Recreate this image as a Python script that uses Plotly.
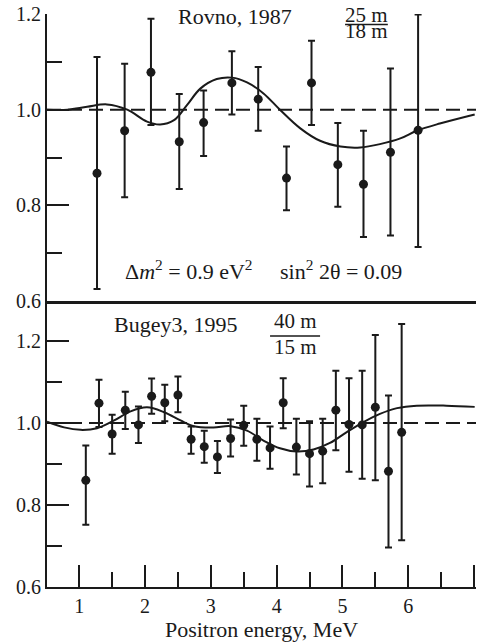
import plotly.graph_objects as go

# ---------------- data ----------------
# Rovno, 1987
rovno_E = [1.27, 1.69, 2.09, 2.52, 2.89, 3.32, 3.72, 4.15, 4.53, 4.93, 5.32, 5.73, 6.15]
rovno_R = [0.867, 0.956, 1.078, 0.933, 0.973, 1.056, 1.022, 0.857, 1.056, 0.885, 0.844, 0.911, 0.957]
rovno_hi = [1.110, 1.096, 1.190, 1.033, 1.040, 1.122, 1.089, 0.923, 1.144, 0.972, 0.956, 1.086, 1.199]
rovno_lo = [0.625, 0.817, 0.968, 0.834, 0.903, 0.990, 0.956, 0.790, 0.968, 0.797, 0.734, 0.737, 0.713]

rovno_fit_E = [0.51, 0.82, 1.12, 1.42, 1.73, 2.03, 2.23, 2.44, 2.64, 2.84, 3.09, 3.32, 3.55,
               3.80, 4.05, 4.36, 4.66, 4.97, 5.27, 5.57, 5.88, 6.13, 6.48, 7.01]
rovno_fit_R = [1.000, 1.000, 1.006, 1.011, 1.000, 0.975, 0.969, 0.978, 1.010, 1.044, 1.064, 1.067, 1.057,
               1.034, 1.000, 0.961, 0.935, 0.923, 0.921, 0.928, 0.940, 0.956, 0.971, 0.990]

# Bugey3, 1995
bugey_E = [1.1, 1.3, 1.5, 1.7, 1.9, 2.1, 2.3, 2.5, 2.7, 2.9, 3.1, 3.3, 3.5,
           3.7, 3.9, 4.1, 4.3, 4.5, 4.7, 4.9, 5.1, 5.3, 5.5, 5.7, 5.9]
bugey_R = [0.860, 1.048, 0.973, 1.031, 0.995, 1.065, 1.049, 1.068, 0.960, 0.942, 0.917, 0.962, 0.994,
           0.960, 0.939, 1.049, 0.941, 0.925, 0.931, 1.031, 0.996, 0.995, 1.038, 0.882, 0.977]
bugey_hi = [0.945, 1.105, 1.020, 1.076, 1.040, 1.108, 1.093, 1.113, 0.991, 0.981, 0.956, 1.008, 1.042,
            1.010, 0.991, 1.109, 1.010, 1.004, 1.010, 1.127, 1.109, 1.127, 1.214, 1.067, 1.241]
bugey_lo = [0.752, 0.990, 0.925, 0.985, 0.951, 1.022, 1.004, 1.026, 0.925, 0.903, 0.878, 0.918, 0.944,
            0.908, 0.888, 0.987, 0.874, 0.845, 0.853, 0.933, 0.881, 0.864, 0.860, 0.696, 0.714]

bugey_fit_E = [0.51, 0.77, 1.02, 1.27, 1.53, 1.78, 2.03, 2.29, 2.54, 2.74, 3.04, 3.30, 3.55,
               3.80, 4.05, 4.31, 4.56, 4.81, 5.06, 5.32, 5.57, 5.83, 6.13, 6.58, 7.01]
bugey_fit_R = [1.003, 0.989, 0.983, 0.987, 1.006, 1.028, 1.038, 1.026, 1.006, 0.992, 0.989, 0.992, 0.981,
               0.957, 0.938, 0.930, 0.935, 0.951, 0.977, 1.002, 1.022, 1.036, 1.042, 1.042, 1.039]

no_oscillation = 1.0
x_tick0, x_major_step, x_minor_step = 1, 1, 0.5
y_tick0, y_major_step, y_minor_step = 0.6, 0.2, 0.1

# ---------------- figure ----------------
FONT = "Liberation Serif"
BLACK = "#1a1a1a"
split = 0.4991
X_RANGE = [0.51, 7.03]

fig = go.Figure()


def add_panel(E, R, hi, lo, fitE, fitR, xa, ya):
    fig.add_trace(go.Scatter(
        x=fitE, y=fitR, xaxis=xa, yaxis=ya, mode="lines",
        line=dict(color=BLACK, width=2, shape="spline", smoothing=1.0),
        showlegend=False, hoverinfo="skip"))
    fig.add_trace(go.Scatter(
        x=E, y=R, xaxis=xa, yaxis=ya, mode="markers",
        marker=dict(color=BLACK, size=9),
        error_y=dict(type="data", symmetric=False,
                     array=[h - r for h, r in zip(hi, R)],
                     arrayminus=[r - l for r, l in zip(R, lo)],
                     color=BLACK, thickness=2, width=3.5),
        cliponaxis=False, showlegend=False))


add_panel(rovno_E, rovno_R, rovno_hi, rovno_lo, rovno_fit_E, rovno_fit_R, "x", "y")
add_panel(bugey_E, bugey_R, bugey_hi, bugey_lo, bugey_fit_E, bugey_fit_R, "x2", "y2")

# dashed no-oscillation lines
for xr, yr in [("x", "y"), ("x2", "y2")]:
    fig.add_shape(type="line", xref=xr + " domain", yref=yr, x0=0, x1=1,
                  y0=no_oscillation, y1=no_oscillation,
                  line=dict(color=BLACK, width=2, dash="14px,7px"), layer="below")

xcommon = dict(range=X_RANGE, showgrid=False, zeroline=False, showline=True,
               linecolor=BLACK, mirror=False)
ycommon = dict(showgrid=False, zeroline=False, showline=True, linecolor=BLACK, linewidth=2,
               ticks="inside", ticklen=22, tickwidth=2, tickcolor=BLACK,
               tickmode="linear", tick0=y_tick0, dtick=y_major_step, tickformat=".1f",
               tickfont=dict(family=FONT, size=20, color=BLACK),
               minor=dict(ticks="inside", ticklen=15, tickwidth=2, tickcolor=BLACK,
                          tick0=y_tick0, dtick=y_minor_step, showgrid=False))

fig.update_layout(
    width=479, height=643,
    margin=dict(l=47, r=3, t=12, b=56),
    paper_bgcolor="white", plot_bgcolor="white",
    font=dict(family=FONT, color=BLACK),
    xaxis=dict(**xcommon, anchor="y", linewidth=2.5, ticks="", showticklabels=False),
    xaxis2=dict(**xcommon, anchor="y2", linewidth=2,
                ticks="inside", ticklen=22, tickwidth=2, tickcolor=BLACK,
                tickmode="linear", tick0=x_tick0, dtick=x_major_step,
                tickfont=dict(family=FONT, size=20, color=BLACK),
                minor=dict(ticks="inside", ticklen=15, tickwidth=2, tickcolor=BLACK,
                           tick0=x_tick0, dtick=x_minor_step, showgrid=False),
                title=dict(text="Positron energy, MeV", standoff=0,
                           font=dict(family=FONT, size=22, color=BLACK))),
    yaxis=dict(**ycommon, range=[0.6, 1.2], domain=[split, 1], anchor="x"),
    yaxis2=dict(**ycommon, range=[0.6, 1.297], domain=[0, split], anchor="x2"),
)

ann_font = dict(family=FONT, size=22, color=BLACK)
frac_font = dict(family=FONT, size=21, color=BLACK)
annotations = [
    dict(x=3.37, y=1.194, xref="x", yref="y", text="Rovno, 1987", font=ann_font),
    dict(x=5.36, y=1.178, xref="x", yref="y", text="25 m", font=frac_font,
         yanchor="bottom", yshift=-4),
    dict(x=5.36, y=1.164, xref="x", yref="y", text="18 m", font=frac_font),
    dict(x=3.80, y=0.664, xref="x", yref="y",
         text="Δ<i>m</i><sup>2</sup> = 0.9 eV<sup>2</sup>\u2003 sin<sup>2</sup> 2θ = 0.09",
         font=ann_font),
    dict(x=2.46, y=1.240, xref="x2", yref="y2", text="Bugey3, 1995", font=ann_font),
    dict(x=4.28, y=1.248, xref="x2", yref="y2", text="40 m", font=frac_font),
    dict(x=4.28, y=1.185, xref="x2", yref="y2", text="15 m", font=frac_font),
]
for a in annotations:
    a.setdefault("yanchor", "middle")
    fig.add_annotation(showarrow=False, xanchor="center", **a)

# fraction bars
fig.add_shape(type="line", xref="x", yref="y", x0=5.04, x1=5.69, y0=1.178, y1=1.178,
              line=dict(color=BLACK, width=1.5))
fig.add_shape(type="line", xref="x2", yref="y2", x0=3.90, x1=4.66, y0=1.212, y1=1.212,
              line=dict(color=BLACK, width=1.5))

fig.write_html("out.html")
